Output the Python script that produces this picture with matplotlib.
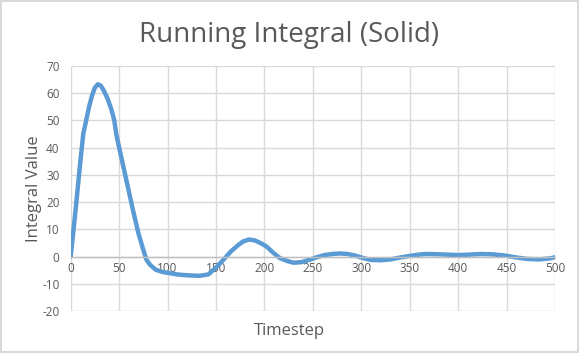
import numpy as np
import matplotlib
matplotlib.use("Agg")
import matplotlib.pyplot as plt

plt.rcParams['font.family'] = ['Open Sans', 'DejaVu Sans']
plt.rcParams['axes.unicode_minus'] = False

# values
timestep = [0, 5, 10, 13, 16, 19, 22, 25, 28, 31, 34, 38, 42, 45, 47, 50, 55,
            60, 65, 70, 75, 78, 82, 88, 95, 102, 110, 120, 133, 142, 150, 158,
            165, 172, 178, 184, 190, 196, 202, 209, 216, 223, 230, 238, 246, 254,
            262, 270, 278, 286, 294, 302, 310, 320, 330, 340, 350, 360, 367, 380,
            400, 412, 423, 435, 447, 459, 471, 483, 495, 500]
integral = [0, 17, 35, 45, 50, 55, 59, 62, 63.2, 62.7, 61, 58, 54, 50, 45, 40,
            32, 24, 16, 8.5, 2.5, -1, -3, -4.8, -5.6, -6, -6.5, -6.8, -7, -6.5,
            -4, -1, 1.8, 4, 5.6, 6.3, 6, 5, 3.8, 1.5, -0.5, -1.5, -2.2, -2, -1.2,
            -0.2, 0.6, 1.0, 1.2, 1.0, 0.4, -0.5, -1.2, -1.3, -1.0, -0.3, 0.3,
            0.8, 1.0, 0.9, 0.6, 0.8, 1.0, 0.9, 0.5, -0.2, -0.8, -1.0, -0.6, -0.2]
xticks = list(range(0, 501, 50))
yticks = list(range(-20, 71, 10))

text_col = '#595959'
grid_col = '#D9D9D9'

fig = plt.figure(figsize=(5.79, 3.53), dpi=100)
fig.patch.set_edgecolor('#D9D9D9')
fig.patch.set_linewidth(1.5)
ax = fig.add_axes([0.1221, 0.1181, 0.8364, 0.6958])

ax.plot(timestep, integral, color='#5B9BD5', linewidth=3.2, solid_capstyle='round')

ax.set_xlim(0, 500)
ax.set_ylim(-20, 70)
ax.set_xticks(xticks)
ax.set_yticks(yticks)
ax.grid(True, color=grid_col, linewidth=1)
ax.set_axisbelow(True)

for s in ['top', 'right', 'left']:
    ax.spines[s].set_visible(False)
ax.spines['bottom'].set_position(('data', 0))
ax.spines['bottom'].set_color('#BFBFBF')
ax.spines['bottom'].set_linewidth(1)
ax.tick_params(length=0, labelsize=8.5, labelcolor=text_col)
ax.tick_params(axis='x', pad=4)
ax.tick_params(axis='y', pad=8)

fig.text(0.5, 0.90, 'Running Integral (Solid)', ha='center', va='center',
         fontsize=20, color=text_col)
fig.text(0.5, 0.063, 'Timestep', ha='center', va='center', fontsize=12, color=text_col)
fig.text(0.059, 0.466, 'Integral Value', ha='center', va='center', fontsize=12,
         color=text_col, rotation=90)

fig.savefig('out.png', dpi=100)
